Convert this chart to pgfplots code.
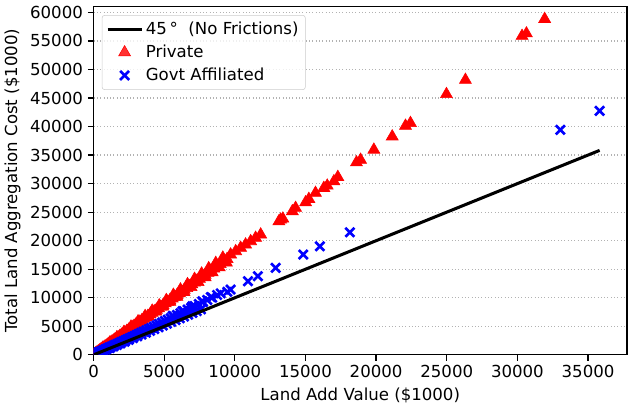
\documentclass[border=0pt]{standalone}
\usepackage{pgfplots}
\pgfplotsset{compat=1.18}
\usepackage{fontspec}
\setmainfont{DejaVu Sans}
\pgfplotsset{
  mylineleg/.style={legend image code/.code={\draw[##1] (0cm,0cm) -- (0.86cm,0cm);}},
  mymarkleg/.style={legend image code/.code={\draw[mark repeat=2,mark phase=2,##1] plot coordinates {(0cm,0cm) (0.43cm,0cm) (0.86cm,0cm)};}},
  privstyle/.style={only marks, mark=triangle*, mark size=5bp, draw=red, fill=red},
  govstyle/.style={only marks, mark=x, mark size=4.6bp, blue, mark options={line width=1.9pt}},
}
\begin{document}
\begin{tikzpicture}
\path (-66.8bp,-34.9bp) rectangle (385.4bp,255.9bp);
\begin{axis}[
  at={(0,0)}, anchor=south west,
  scale only axis,
  width=384.6bp, height=251.1bp,
  xmin=0, xmax=37750, ymin=0, ymax=61000,
  xtick={0,5000,...,35000},
  ytick={0,5000,...,60000},
  scaled ticks=false,
  /pgf/number format/.cd, 1000 sep={}, assume math mode=true,
  /pgfplots/.cd,
  tick label style={font=\fontsize{12pt}{14pt}\selectfont, text=black},
  label style={font=\fontsize{12pt}{14pt}\selectfont, text=black},
  xlabel={Land Add Value (\$1000)},
  ylabel={Total Land Aggregation Cost (\$1000)},
  tick align=outside,
  major tick length=4.2pt,
  xtick pos=bottom, ytick pos=left,
  tick style={black, line width=0.9pt},
  axis line style={black, line width=0.9pt},
  ymajorgrids,
  grid style={dotted, gray!60, line width=0.9pt},
  clip marker paths=true,
  legend cell align=left,
  legend style={at={(0.0154,0.976)}, anchor=north west, draw=black!20, fill=white, fill opacity=0.8, text opacity=1, rounded corners=2pt, font=\fontsize{12pt}{14pt}\selectfont, row sep=2pt, inner sep=3pt},
]
\addlegendimage{black, line width=2.2pt, mylineleg}
\addlegendentry{45\,°\ \ (No Frictions)}
\addlegendimage{privstyle, mymarkleg}
\addlegendentry{Private}
\addlegendimage{govstyle, mymarkleg}
\addlegendentry{Govt Affiliated}

\addplot[forget plot, privstyle] coordinates {
(60,105) (150,265) (240,425) (330,585) (420,740) (510,900) (600,1060) (700,1240)
(800,1415) (900,1590) (1000,1770) (1100,1950) (1200,2120) (1300,2300) (1400,2480)
(1500,2650) (1620,2870) (1740,3080) (1860,3290) (1980,3500) (2100,3720) (2220,3930)
(2350,4160) (2480,4390) (2610,4620) (2740,4850) (2870,5080) (3000,5310) (3140,5560)
(3280,5810) (3420,6060) (3560,6300) (3700,6550) (3850,6820) (4000,7080) (4150,7350)
(4300,7610) (4450,7880) (4600,8150) (4760,8430) (4920,8710) (5080,9000) (5240,9280)
(5400,9560) (5570,9870) (5740,10170) (5910,10470) (6080,10770) (6250,11070) (6420,11380)
(6600,11700) (6780,12020) (6960,12340) (7140,12660) (7320,12980) (7500,13300) (7700,13660)
(7900,14010) (8100,14370) (8300,14730) (8520,15120) (8740,15510) (8960,15900) (9200,16330)
(9450,16780) (9700,17570) (10060,18150) (10410,18740) (10760,19320) (11120,19900)
(11470,20490) (11830,21070) (13120,23390) (13240,23690) (13400,23850) (14070,25140)
(14300,25730) (15010,26710) (15240,27300) (15710,28360) (16300,29230) (16540,29630)
(17010,30390) (17290,31150) (18610,33710) (18900,34160) (19840,35930) (21140,38250)
(22080,40120) (22430,40600) (24980,45660) (26320,48160) (30330,55860) (30640,56300)
(31930,58830)
(400,690) (900,1550) (1400,2410) (1900,3270) (2400,4130) (2900,4990) (3400,5850)
(3900,6710) (4400,7570) (4900,8430) (5400,9290) (5900,10150) (6400,11010) (6900,11870)
(7400,12730) (7900,13590) (8400,14450) (8900,15310) (9400,16170)
(650,1210) (1150,2140) (1650,3070) (2150,4000) (2650,4930) (3150,5860) (3650,6790)
(4150,7720) (4650,8650) (5150,9580) (5650,10510) (6150,11440) (6650,12370) (7150,13300)
(7650,14230) (8150,15160) (8650,16090) (9150,17020)
};
\addplot[forget plot, govstyle] coordinates {
(80,120) (200,260) (320,390) (450,530) (580,680) (700,820) (830,960) (960,1110)
(1100,1270) (1240,1420) (1380,1580) (1520,1740) (1660,1900) (1800,2060) (1950,2230)
(2100,2400) (2250,2570) (2400,2740) (2560,2930) (2720,3110) (2880,3290) (3040,3480)
(3200,3670) (3370,3870) (3540,4060) (3720,4280) (3900,4490) (4080,4700) (4270,4940)
(4460,5170) (4650,5420) (4850,5660) (5050,5920) (5250,6170) (5460,6440) (5680,6710)
(5900,6990) (6150,7300) (6400,7620) (6650,7930) (6900,8250) (7150,8560) (7450,8910)
(7750,9270) (8050,9620) (8400,10030) (8750,10480) (9000,10780) (9470,11050) (9700,11440)
(10930,12900) (11630,13780) (12890,15250) (14840,17570) (16020,19020) (18140,21470)
(33040,39420) (35820,42740)
(150,160) (400,420) (650,680) (900,950) (1150,1210) (1400,1470) (1650,1740) (1900,2000)
(2200,2310) (2500,2630) (2800,2940) (3100,3260) (3400,3570) (3700,3890) (4000,4200)
(4300,4520) (4600,4830) (4900,5150) (5200,5460) (5500,5780) (5800,6090) (6100,6410)
(6400,6720) (6700,7040) (7000,7350) (7300,7670) (7600,7980)
(5600,6830) (6300,7690) (7000,8540) (7700,9390) (8300,10130)
};
\addplot[forget plot, black, line width=2.2pt] coordinates {(0,0) (35820,35820)};
\end{axis}
\end{tikzpicture}
\end{document}
